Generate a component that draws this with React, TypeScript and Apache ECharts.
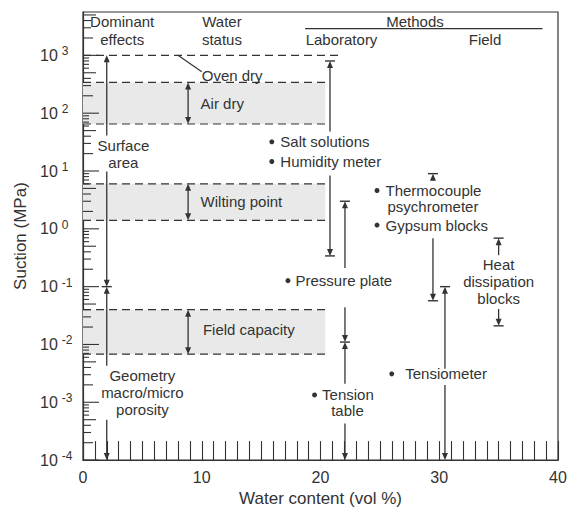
import React, { useEffect, useRef } from 'react';
import * as echarts from 'echarts';

const FONT = '"Liberation Sans", Arial, Helvetica, sans-serif';
const INK = '#333333';
const lg = (v: number) => Math.log10(v);

// axes
const xMin = 0;
const xMax = 40;
const xInterval = 10;
const yMinExp = -4; // 10^-4 MPa
const yMaxExp = 3.75; // top of frame
const yDecades = [-4, -3, -2, -1, 0, 1, 2, 3];

// water status bands [label, low MPa, high MPa]
const bands: [string, number, number][] = [
  ['Air dry', 65, 340],
  ['Wilting point', 1.4, 6],
  ['Field capacity', 0.0068, 0.04],
];
const bandEndX = 20.4;
const ovenDry = 1000;
const ovenDryEndX = 21.8;

// band / status labels [text, x, MPa]
const statusLabels: [string, number, number][] = [
  ['Oven dry', 10.0, 450],
  ['Air dry', 9.9, 150],
  ['Wilting point', 9.9, 3.0],
  ['Field capacity', 10.1, 0.018],
];

// straight solid guide lines [[x1, MPa1], [x2, MPa2]]
const guideLines: [[number, number], [number, number]][] = [
  [[8.0, 1000], [10.0, 520]],
  [[18.7, 2900], [38.7, 2900]],
];

// vertical range arrows [x, top MPa, bottom MPa, top cap, bottom cap]
type Cap = 'none' | 'arrow' | 'bar';
const rangeArrows: [number, number, number, Cap, Cap][] = [
  [2.0, 1000, 41, 'arrow', 'none'],
  [2.0, 9.8, 0.1, 'none', 'bar'],
  [2.0, 0.1, 0.0043, 'arrow', 'none'],
  [2.0, 0.0005, 0.0001, 'none', 'arrow'],
  [8.85, 340, 65, 'arrow', 'arrow'],
  [8.85, 6, 1.4, 'arrow', 'arrow'],
  [8.85, 0.04, 0.0068, 'arrow', 'arrow'],
  [20.8, 800, 48, 'bar', 'none'],
  [20.8, 8.4, 0.34, 'none', 'bar'],
  [22.06, 3.0, 0.21, 'bar', 'none'],
  [22.06, 0.044, 0.011, 'none', 'bar'],
  [22.06, 0.011, 0.0021, 'arrow', 'none'],
  [22.06, 0.00043, 0.0001, 'none', 'arrow'],
  [29.47, 9.0, 7.1, 'bar', 'none'],
  [29.47, 0.69, 0.057, 'none', 'bar'],
  [30.48, 0.1, 0.0038, 'bar', 'none'],
  [30.48, 0.002, 0.0001, 'none', 'arrow'],
  [35.0, 0.69, 0.35, 'bar', 'none'],
  [35.0, 0.041, 0.021, 'none', 'bar'],
];

// bullet methods [text, x, MPa, label gap]
const methodPoints: [string, number, number, number][] = [
  ['Salt solutions', 15.9, 32, 6],
  ['Humidity meter', 15.9, 14.6, 6],
  ['Pressure plate', 17.26, 0.127, 5],
  ['Tension', 19.5, 0.00134, 5],
  ['Thermocouple', 24.76, 4.6, 6],
  ['Gypsum blocks', 24.76, 1.16, 6],
  ['Tensiometer', 26.0, 0.0031, 11],
];

// centred texts [text, x, MPa]
const centredTexts: [string, number, number][] = [
  ['Dominant', 3.3, 3800],
  ['effects', 3.3, 1860],
  ['Water', 11.7, 3800],
  ['status', 11.7, 1860],
  ['Methods', 27.96, 3800],
  ['Laboratory', 21.77, 1860],
  ['Field', 33.85, 1860],
  ['Surface', 3.4, 27.4],
  ['area', 3.4, 14.0],
  ['Geometry', 5.0, 0.00287],
  ['macro/micro', 5.0, 0.00147],
  ['porosity', 5.0, 0.00075],
  ['table', 22.27, 0.00072],
  ['psychrometer', 29.47, 2.46],
  ['Heat', 35.0, 0.239],
  ['dissipation', 35.0, 0.122],
  ['blocks', 35.0, 0.0625],
];

const minorTickLen = (k: number) => (k === 1 ? 16 : k === 5 ? 13 : k === 2 ? 10 : k <= 4 ? 8 : 6);

export default function App() {
  const ref = useRef<HTMLDivElement>(null);

  useEffect(() => {
    const chart = echarts.init(ref.current!, null, { renderer: 'svg' });

    const yTicks: [number, number][] = [];
    yDecades.forEach((d) => {
      for (let k = 1; k <= 9; k++) {
        const e = d + Math.log10(k);
        if (e <= yMaxExp) yTicks.push([e, minorTickLen(k)]);
      }
    });

    const dashedLevels: [number, number][] = [[ovenDry, ovenDryEndX]];
    bands.forEach((b) => {
      dashedLevels.push([b[2], bandEndX]);
      dashedLevels.push([b[1], bandEndX]);
    });

    const textStyle = (text: string, align: string, size = 15) => ({
      text,
      fill: INK,
      font: `${size}px ${FONT}`,
      align,
      verticalAlign: 'middle',
    });

    const option: any = {
      animation: false,
      grid: {
        left: 83,
        right: 12,
        top: 12,
        bottom: 48,
        show: true,
        borderColor: INK,
        borderWidth: 1.2,
      },
      xAxis: {
        type: 'value',
        min: xMin,
        max: xMax,
        interval: xInterval,
        name: 'Water content (vol %)',
        nameLocation: 'middle',
        nameGap: 27,
        nameTextStyle: { fontFamily: FONT, fontSize: 17, color: INK },
        axisLine: { show: true, onZero: false, lineStyle: { color: INK, width: 1.2 } },
        axisTick: { show: true, inside: true, length: 19, lineStyle: { color: INK, width: 1.1 } },
        minorTick: { show: true, splitNumber: 10, length: 19, lineStyle: { color: INK, width: 1.1 } },
        splitLine: { show: false },
        axisLabel: { fontFamily: FONT, fontSize: 16, color: INK, margin: 9 },
      },
      yAxis: {
        type: 'value',
        min: yMinExp,
        max: yMaxExp,
        interval: 1,
        name: 'Suction (MPa)',
        nameLocation: 'middle',
        nameGap: 54,
        nameTextStyle: { fontFamily: FONT, fontSize: 17, color: INK },
        axisLine: { show: true, onZero: false, lineStyle: { color: INK, width: 1.2 } },
        axisTick: { show: false },
        splitLine: { show: false },
        axisLabel: {
          align: 'left',
          margin: 43,
          formatter: (v: number) =>
            Math.abs(v - Math.round(v)) < 1e-6 ? `{b|10}{s|${Math.round(v)}}` : '',
          rich: {
            b: { fontFamily: FONT, fontSize: 16, color: INK, lineHeight: 20 },
            s: {
              fontFamily: FONT,
              fontSize: 12,
              color: INK,
              lineHeight: 10,
              verticalAlign: 'top',
              padding: [0, 0, 0, 4],
            },
          },
        },
      },
      series: [
        {
          type: 'custom',
          name: 'bands',
          silent: true,
          z: 1,
          data: bands.map((b) => [bandEndX, lg(b[2])]),
          renderItem: (params: any, api: any) => {
            const b = bands[params.dataIndex];
            const p0 = api.coord([0, lg(b[2])]);
            const p1 = api.coord([bandEndX, lg(b[1])]);
            return {
              type: 'rect',
              shape: { x: p0[0], y: p0[1], width: p1[0] - p0[0], height: p1[1] - p0[1] },
              style: { fill: '#e9e9e9' },
            };
          },
        },
        {
          type: 'custom',
          name: 'levels',
          silent: true,
          z: 2,
          data: dashedLevels.map((d) => [d[1], lg(d[0])]),
          renderItem: (params: any, api: any) => {
            const d = dashedLevels[params.dataIndex];
            const p0 = api.coord([0, lg(d[0])]);
            const p1 = api.coord([d[1], lg(d[0])]);
            return {
              type: 'line',
              shape: { x1: p0[0], y1: p0[1], x2: p1[0], y2: p1[1] },
              style: { stroke: INK, lineWidth: 1.2, lineDash: [8, 5] },
            };
          },
        },
        {
          type: 'custom',
          name: 'guides',
          silent: true,
          z: 3,
          data: guideLines.map((g) => [g[0][0], lg(g[0][1])]),
          renderItem: (params: any, api: any) => {
            const g = guideLines[params.dataIndex];
            const p0 = api.coord([g[0][0], lg(g[0][1])]);
            const p1 = api.coord([g[1][0], lg(g[1][1])]);
            return {
              type: 'line',
              shape: { x1: p0[0], y1: p0[1], x2: p1[0], y2: p1[1] },
              style: { stroke: INK, lineWidth: 1.2 },
            };
          },
        },
        {
          type: 'custom',
          name: 'ranges',
          silent: true,
          z: 4,
          data: rangeArrows.map((r) => [r[0], lg(r[1])]),
          renderItem: (params: any, api: any) => {
            const r = rangeArrows[params.dataIndex];
            const pt = api.coord([r[0], lg(r[1])]);
            const pb = api.coord([r[0], lg(r[2])]);
            const x = pt[0];
            const kids: any[] = [];
            let y1 = pt[1];
            let y2 = pb[1];
            const ah = 7;
            const aw = 3;
            if (r[3] !== 'none') {
              kids.push({
                type: 'polygon',
                shape: { points: [[x, pt[1]], [x - aw, pt[1] + ah], [x + aw, pt[1] + ah]] },
                style: { fill: INK },
              });
              if (r[3] === 'bar')
                kids.push({
                  type: 'line',
                  shape: { x1: x - 5, y1: pt[1], x2: x + 5, y2: pt[1] },
                  style: { stroke: INK, lineWidth: 1.4 },
                });
              y1 = pt[1] + ah - 1;
            }
            if (r[4] !== 'none') {
              kids.push({
                type: 'polygon',
                shape: { points: [[x, pb[1]], [x - aw, pb[1] - ah], [x + aw, pb[1] - ah]] },
                style: { fill: INK },
              });
              if (r[4] === 'bar')
                kids.push({
                  type: 'line',
                  shape: { x1: x - 5, y1: pb[1], x2: x + 5, y2: pb[1] },
                  style: { stroke: INK, lineWidth: 1.4 },
                });
              y2 = pb[1] - ah + 1;
            }
            kids.unshift({
              type: 'line',
              shape: { x1: x, y1, x2: x, y2 },
              style: { stroke: INK, lineWidth: 1.3 },
            });
            return { type: 'group', children: kids };
          },
        },
        {
          type: 'custom',
          name: 'yticks',
          silent: true,
          z: 5,
          data: yTicks.map((t) => [0, t[0]]),
          renderItem: (params: any, api: any) => {
            const t = yTicks[params.dataIndex];
            const p = api.coord([0, t[0]]);
            return {
              type: 'line',
              shape: { x1: p[0], y1: p[1], x2: p[0] + t[1], y2: p[1] },
              style: { stroke: INK, lineWidth: 1.1 },
            };
          },
        },
        {
          type: 'scatter',
          name: 'methods',
          silent: true,
          z: 6,
          symbol: 'circle',
          symbolSize: 5,
          itemStyle: { color: INK, opacity: 1 },
          data: methodPoints.map((m) => ({
            name: m[0],
            value: [m[1], lg(m[2])],
            label: {
              show: true,
              position: 'right',
              distance: m[3],
              formatter: '{b}',
              fontFamily: FONT,
              fontSize: 15,
              color: INK,
            },
          })),
        },
        {
          type: 'custom',
          name: 'texts',
          silent: true,
          z: 7,
          data: centredTexts.map((t) => [t[1], lg(t[2])]),
          renderItem: (params: any, api: any) => {
            const t = centredTexts[params.dataIndex];
            const p = api.coord([t[1], lg(t[2])]);
            return { type: 'text', x: p[0], y: p[1], style: textStyle(t[0], 'center') };
          },
        },
        {
          type: 'custom',
          name: 'status',
          silent: true,
          z: 7,
          data: statusLabels.map((t) => [t[1], lg(t[2])]),
          renderItem: (params: any, api: any) => {
            const t = statusLabels[params.dataIndex];
            const p = api.coord([t[1], lg(t[2])]);
            return { type: 'text', x: p[0], y: p[1], style: textStyle(t[0], 'left') };
          },
        },
      ],
    };

    chart.setOption(option);
    return () => chart.dispose();
  }, []);

  return (
    <div
      ref={ref}
      style={{ position: 'fixed', left: 0, top: 0, width: 570, height: 512, background: '#fff' }}
    />
  );
}
